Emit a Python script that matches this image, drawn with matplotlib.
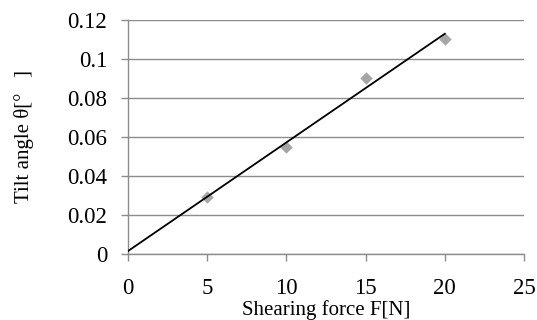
import numpy as np
import matplotlib
matplotlib.use("Agg")
import matplotlib.pyplot as plt

plt.rcParams['font.family'] = ['Liberation Serif', 'DejaVu Serif']

force = [5, 10, 15, 20]
tilt = [0.029, 0.055, 0.090, 0.110]
xticks = [0, 5, 10, 15, 20, 25]
yticks = [0, 0.02, 0.04, 0.06, 0.08, 0.1, 0.12]
ytick_labels = ['0', '0.02', '0.04', '0.06', '0.08', '0.1', '0.12']

fig = plt.figure(figsize=(5.37, 3.20), dpi=100)
ax = fig.add_axes([128/537, 1 - 254/320, (524-128)/537, (254-19.5)/320])

slope, intercept = np.polyfit(force, tilt, 1)
xl = np.array([0, 20])
ax.plot(xl, slope * xl + intercept, color='black', lw=1.3, zorder=3)
ax.scatter(force, tilt, marker='D', s=40, color='#a6a6a6', zorder=2, linewidths=0)

ax.set_xlim(0, 25)
ax.set_ylim(0, 0.12)
ax.set_xticks(xticks)
ax.set_xticklabels([str(t) for t in xticks])
ax.set_yticks(yticks)
ax.set_yticklabels(ytick_labels)
ax.yaxis.grid(True, color='#8c8c8c', lw=1.0)
ax.set_axisbelow(True)
for s in ['top', 'right']:
    ax.spines[s].set_visible(False)
for s in ['left', 'bottom']:
    ax.spines[s].set_color('#8c8c8c')
    ax.spines[s].set_linewidth(1.0)
ax.tick_params(axis='both', colors='#8c8c8c', labelcolor='black', labelsize=16.5, length=5, width=1.0)
ax.tick_params(axis='y', pad=10)
ax.tick_params(axis='x', pad=12)

ax.set_xlabel('Shearing force F[N]', fontsize=15, labelpad=1)
ax.set_ylabel('Tilt angle θ[°   ]', fontsize=15, labelpad=24)

fig.savefig('out.png', dpi=100)
